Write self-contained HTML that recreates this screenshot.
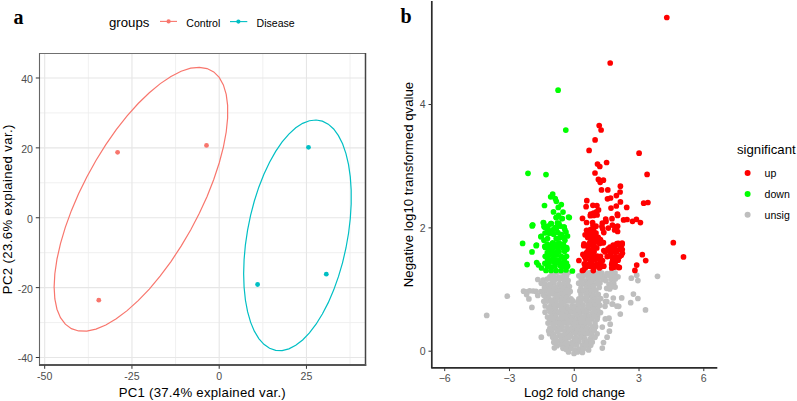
<!DOCTYPE html>
<html><head><meta charset="utf-8"><style>
html,body{margin:0;padding:0;background:#fff;width:797px;height:401px;overflow:hidden}
svg{display:block}
text{font-family:"Liberation Sans",sans-serif}
.gmaj{stroke:#E6E6E6;stroke-width:1.1}
.gmin{stroke:#EEEEEE;stroke-width:0.9}
.tk{stroke:#333;stroke-width:1}
.axl{stroke:#2b2b2b;stroke-width:1.7}
.ax{font-size:10.56px;fill:#4D4D4D}
.tt{font-size:13.2px;fill:#000}
.lg{font-size:10.56px;fill:#000}
.lab{font-family:"Liberation Serif",serif;font-weight:bold;font-size:20px;fill:#000}
</style></head><body>
<svg width="797" height="401" viewBox="0 0 797 401">
<rect width="797" height="401" fill="#fff"/>
<line x1="88.32" y1="53.5" x2="88.32" y2="365.5" class="gmin"/><line x1="175.57" y1="53.5" x2="175.57" y2="365.5" class="gmin"/><line x1="262.82" y1="53.5" x2="262.82" y2="365.5" class="gmin"/><line x1="350.07" y1="53.5" x2="350.07" y2="365.5" class="gmin"/><line x1="39.5" y1="112.93" x2="365.5" y2="112.93" class="gmin"/><line x1="39.5" y1="182.81" x2="365.5" y2="182.81" class="gmin"/><line x1="39.5" y1="252.69" x2="365.5" y2="252.69" class="gmin"/><line x1="39.5" y1="322.57" x2="365.5" y2="322.57" class="gmin"/><line x1="44.70" y1="53.5" x2="44.70" y2="365.5" class="gmaj"/><line x1="131.95" y1="53.5" x2="131.95" y2="365.5" class="gmaj"/><line x1="219.20" y1="53.5" x2="219.20" y2="365.5" class="gmaj"/><line x1="306.45" y1="53.5" x2="306.45" y2="365.5" class="gmaj"/><line x1="39.5" y1="77.99" x2="365.5" y2="77.99" class="gmaj"/><line x1="39.5" y1="147.87" x2="365.5" y2="147.87" class="gmaj"/><line x1="39.5" y1="217.75" x2="365.5" y2="217.75" class="gmaj"/><line x1="39.5" y1="287.63" x2="365.5" y2="287.63" class="gmaj"/><line x1="39.5" y1="357.51" x2="365.5" y2="357.51" class="gmaj"/><path d="M54.12,287.06 L54.84,273.73 L56.96,259.17 L60.47,243.64 L65.30,227.37 L71.37,210.65 L78.58,193.73 L86.82,176.91 L95.95,160.46 L105.81,144.64 L116.26,129.73 L127.11,115.95 L138.18,103.54 L149.31,92.71 L160.29,83.62 L170.96,76.44 L181.13,71.27 L190.65,68.21 L199.35,67.29 L207.09,68.55 L213.75,71.95 L219.21,77.44 L223.38,84.93 L226.21,94.31 L227.63,105.40 L227.63,118.04 L226.21,132.01 L223.38,147.09 L219.21,163.02 L213.75,179.55 L207.09,196.40 L199.35,213.30 L190.65,229.98 L181.13,246.14 L170.96,261.54 L160.29,275.92 L149.31,289.04 L138.18,300.68 L127.11,310.66 L116.26,318.81 L105.81,325.00 L95.95,329.13 L86.82,331.12 L78.58,330.95 L71.37,328.62 L65.30,324.16 L60.47,317.66 L56.96,309.21 L54.84,298.95 L54.12,287.06Z" fill="none" stroke="#F8766D" stroke-width="1.2"/><path d="M243.64,273.67 L244.09,259.44 L245.40,244.82 L247.58,230.04 L250.57,215.35 L254.33,200.98 L258.80,187.18 L263.91,174.17 L269.57,162.17 L275.68,151.37 L282.15,141.94 L288.88,134.05 L295.74,127.82 L302.63,123.36 L309.44,120.73 L316.06,119.99 L322.36,121.14 L328.26,124.17 L333.65,129.02 L338.45,135.62 L342.58,143.85 L345.96,153.59 L348.55,164.67 L350.30,176.91 L351.18,190.11 L351.18,204.05 L350.30,218.50 L348.55,233.24 L345.96,248.00 L342.58,262.56 L338.45,276.67 L333.65,290.10 L328.26,302.63 L322.36,314.06 L316.06,324.20 L309.44,332.87 L302.63,339.95 L295.74,345.30 L288.88,348.85 L282.15,350.54 L275.68,350.34 L269.57,348.24 L263.91,344.29 L258.80,338.56 L254.33,331.13 L250.57,322.12 L247.58,311.69 L245.40,300.01 L244.09,287.26 L243.64,273.67Z" fill="none" stroke="#00BFC4" stroke-width="1.2"/><circle cx="117.6" cy="152.3" r="2.4" fill="#F8766D"/><circle cx="206.5" cy="145.4" r="2.4" fill="#F8766D"/><circle cx="98.8" cy="300.2" r="2.4" fill="#F8766D"/><circle cx="308.5" cy="147.3" r="2.4" fill="#00BFC4"/><circle cx="257.6" cy="284.5" r="2.4" fill="#00BFC4"/><circle cx="326.3" cy="274.2" r="2.4" fill="#00BFC4"/><line x1="39" y1="53.5" x2="366" y2="53.5" stroke="#707070" stroke-width="1.1"/><line x1="39.5" y1="53" x2="39.5" y2="366" stroke="#666" stroke-width="1.1"/><line x1="365.5" y1="53" x2="365.5" y2="366" stroke="#444" stroke-width="1.5"/><line x1="39" y1="365.0" x2="366.2" y2="365.0" stroke="#555" stroke-width="1.8"/><line x1="35.8" y1="77.99" x2="39.5" y2="77.99" class="tk"/><text x="32.9" y="82.89" class="ax" text-anchor="end">40</text><line x1="35.8" y1="147.87" x2="39.5" y2="147.87" class="tk"/><text x="32.9" y="152.77" class="ax" text-anchor="end">20</text><line x1="35.8" y1="217.75" x2="39.5" y2="217.75" class="tk"/><text x="32.9" y="222.65" class="ax" text-anchor="end">0</text><line x1="35.8" y1="287.63" x2="39.5" y2="287.63" class="tk"/><text x="32.9" y="292.53" class="ax" text-anchor="end">-20</text><line x1="35.8" y1="357.51" x2="39.5" y2="357.51" class="tk"/><text x="32.9" y="362.41" class="ax" text-anchor="end">-40</text><line x1="44.70" y1="365.5" x2="44.70" y2="368.8" class="tk"/><text x="44.70" y="380.0" class="ax" text-anchor="middle">-50</text><line x1="131.95" y1="365.5" x2="131.95" y2="368.8" class="tk"/><text x="131.95" y="380.0" class="ax" text-anchor="middle">-25</text><line x1="219.20" y1="365.5" x2="219.20" y2="368.8" class="tk"/><text x="219.20" y="380.0" class="ax" text-anchor="middle">0</text><line x1="306.45" y1="365.5" x2="306.45" y2="368.8" class="tk"/><text x="306.45" y="380.0" class="ax" text-anchor="middle">25</text><text x="202.2" y="396.8" class="tt" text-anchor="middle" textLength="167.1" lengthAdjust="spacing">PC1 (37.4% explained var.)</text><text transform="translate(11.7,209.4) rotate(-90)" x="0" y="0" class="tt" text-anchor="middle" textLength="169.7" lengthAdjust="spacing">PC2 (23.6% explained var.)</text><text x="109" y="27.1" class="tt">groups</text><line x1="160" y1="21.4" x2="177" y2="21.4" stroke="#F8766D" stroke-width="1.1"/><circle cx="168.6" cy="21.4" r="2.1" fill="#F8766D"/><text x="186.3" y="26.5" class="lg">Control</text><line x1="230" y1="21.6" x2="247.3" y2="21.6" stroke="#00BFC4" stroke-width="1.1"/><circle cx="238.4" cy="21.6" r="2.1" fill="#00BFC4"/><text x="256.6" y="26.5" class="lg">Disease</text><text x="13.4" y="23.8" class="lab">a</text>
<g fill="#BEBEBE"><circle cx="552.2" cy="273.3" r="2.85"/><circle cx="556.8" cy="272.3" r="2.85"/><circle cx="561.5" cy="271.9" r="2.85"/><circle cx="564.7" cy="273.1" r="2.85"/><circle cx="568.4" cy="272.6" r="2.85"/><circle cx="582.3" cy="272.3" r="2.85"/><circle cx="586.2" cy="272.8" r="2.85"/><circle cx="590.1" cy="272.6" r="2.85"/><circle cx="594.8" cy="273.4" r="2.85"/><circle cx="598.4" cy="272.9" r="2.85"/><circle cx="601.8" cy="273.0" r="2.85"/><circle cx="607.1" cy="273.5" r="2.85"/><circle cx="611.6" cy="272.2" r="2.85"/><circle cx="615.0" cy="272.9" r="2.85"/><circle cx="549.9" cy="276.9" r="2.85"/><circle cx="553.5" cy="276.2" r="2.85"/><circle cx="558.6" cy="277.0" r="2.85"/><circle cx="563.3" cy="276.9" r="2.85"/><circle cx="566.5" cy="276.1" r="2.85"/><circle cx="578.9" cy="275.8" r="2.85"/><circle cx="583.2" cy="276.2" r="2.85"/><circle cx="588.1" cy="275.8" r="2.85"/><circle cx="591.2" cy="276.1" r="2.85"/><circle cx="596.1" cy="276.4" r="2.85"/><circle cx="601.3" cy="276.6" r="2.85"/><circle cx="604.7" cy="276.5" r="2.85"/><circle cx="609.2" cy="275.5" r="2.85"/><circle cx="613.8" cy="276.8" r="2.85"/><circle cx="618.0" cy="276.8" r="2.85"/><circle cx="543.1" cy="280.2" r="2.85"/><circle cx="547.2" cy="279.1" r="2.85"/><circle cx="551.7" cy="279.3" r="2.85"/><circle cx="556.1" cy="279.1" r="2.85"/><circle cx="559.7" cy="279.3" r="2.85"/><circle cx="564.1" cy="279.7" r="2.85"/><circle cx="568.1" cy="280.6" r="2.85"/><circle cx="581.4" cy="279.2" r="2.85"/><circle cx="586.4" cy="280.8" r="2.85"/><circle cx="589.9" cy="279.9" r="2.85"/><circle cx="593.5" cy="279.2" r="2.85"/><circle cx="598.1" cy="279.5" r="2.85"/><circle cx="603.2" cy="279.3" r="2.85"/><circle cx="605.9" cy="280.7" r="2.85"/><circle cx="611.1" cy="279.3" r="2.85"/><circle cx="615.3" cy="279.1" r="2.85"/><circle cx="541.3" cy="283.3" r="2.85"/><circle cx="545.3" cy="284.0" r="2.85"/><circle cx="550.2" cy="284.1" r="2.85"/><circle cx="554.0" cy="283.1" r="2.85"/><circle cx="559.1" cy="284.4" r="2.85"/><circle cx="563.3" cy="284.1" r="2.85"/><circle cx="567.5" cy="284.0" r="2.85"/><circle cx="578.7" cy="283.2" r="2.85"/><circle cx="583.3" cy="283.9" r="2.85"/><circle cx="588.7" cy="283.5" r="2.85"/><circle cx="592.9" cy="284.4" r="2.85"/><circle cx="597.1" cy="283.3" r="2.85"/><circle cx="600.0" cy="283.1" r="2.85"/><circle cx="609.1" cy="284.3" r="2.85"/><circle cx="613.7" cy="283.5" r="2.85"/><circle cx="544.5" cy="287.7" r="2.85"/><circle cx="548.5" cy="287.1" r="2.85"/><circle cx="551.6" cy="287.7" r="2.85"/><circle cx="556.1" cy="287.7" r="2.85"/><circle cx="561.4" cy="287.0" r="2.85"/><circle cx="564.6" cy="288.0" r="2.85"/><circle cx="569.4" cy="286.6" r="2.85"/><circle cx="581.0" cy="287.8" r="2.85"/><circle cx="586.7" cy="287.5" r="2.85"/><circle cx="589.7" cy="287.3" r="2.85"/><circle cx="593.5" cy="286.3" r="2.85"/><circle cx="599.2" cy="287.5" r="2.85"/><circle cx="611.6" cy="286.7" r="2.85"/><circle cx="541.0" cy="291.6" r="2.85"/><circle cx="545.6" cy="290.7" r="2.85"/><circle cx="550.3" cy="291.6" r="2.85"/><circle cx="554.2" cy="291.6" r="2.85"/><circle cx="558.5" cy="290.9" r="2.85"/><circle cx="562.7" cy="290.0" r="2.85"/><circle cx="566.8" cy="290.3" r="2.85"/><circle cx="570.2" cy="291.4" r="2.85"/><circle cx="579.9" cy="290.9" r="2.85"/><circle cx="583.4" cy="290.9" r="2.85"/><circle cx="588.0" cy="291.3" r="2.85"/><circle cx="591.4" cy="290.9" r="2.85"/><circle cx="595.8" cy="290.4" r="2.85"/><circle cx="543.8" cy="295.3" r="2.85"/><circle cx="548.4" cy="295.1" r="2.85"/><circle cx="553.0" cy="294.0" r="2.85"/><circle cx="556.5" cy="295.3" r="2.85"/><circle cx="561.2" cy="293.8" r="2.85"/><circle cx="564.1" cy="294.4" r="2.85"/><circle cx="568.2" cy="294.0" r="2.85"/><circle cx="581.0" cy="294.8" r="2.85"/><circle cx="586.1" cy="293.8" r="2.85"/><circle cx="590.7" cy="295.3" r="2.85"/><circle cx="593.7" cy="295.3" r="2.85"/><circle cx="598.2" cy="294.4" r="2.85"/><circle cx="546.1" cy="298.1" r="2.85"/><circle cx="549.3" cy="299.0" r="2.85"/><circle cx="554.8" cy="298.9" r="2.85"/><circle cx="557.8" cy="297.7" r="2.85"/><circle cx="561.9" cy="298.6" r="2.85"/><circle cx="566.5" cy="297.4" r="2.85"/><circle cx="571.0" cy="298.8" r="2.85"/><circle cx="578.9" cy="298.9" r="2.85"/><circle cx="583.8" cy="298.5" r="2.85"/><circle cx="587.2" cy="297.3" r="2.85"/><circle cx="592.4" cy="298.0" r="2.85"/><circle cx="595.5" cy="298.9" r="2.85"/><circle cx="600.7" cy="298.6" r="2.85"/><circle cx="543.8" cy="301.3" r="2.85"/><circle cx="547.3" cy="301.1" r="2.85"/><circle cx="551.4" cy="301.2" r="2.85"/><circle cx="556.1" cy="301.4" r="2.85"/><circle cx="561.1" cy="301.4" r="2.85"/><circle cx="564.8" cy="301.2" r="2.85"/><circle cx="568.7" cy="300.9" r="2.85"/><circle cx="572.8" cy="300.9" r="2.85"/><circle cx="577.8" cy="301.8" r="2.85"/><circle cx="581.0" cy="301.7" r="2.85"/><circle cx="586.6" cy="301.0" r="2.85"/><circle cx="590.6" cy="301.6" r="2.85"/><circle cx="594.2" cy="302.3" r="2.85"/><circle cx="598.2" cy="301.7" r="2.85"/><circle cx="545.2" cy="306.0" r="2.85"/><circle cx="550.8" cy="305.7" r="2.85"/><circle cx="553.9" cy="304.9" r="2.85"/><circle cx="558.1" cy="305.3" r="2.85"/><circle cx="562.1" cy="305.3" r="2.85"/><circle cx="566.5" cy="306.2" r="2.85"/><circle cx="572.0" cy="305.5" r="2.85"/><circle cx="574.8" cy="306.2" r="2.85"/><circle cx="579.2" cy="305.1" r="2.85"/><circle cx="582.8" cy="305.2" r="2.85"/><circle cx="587.9" cy="305.4" r="2.85"/><circle cx="591.6" cy="305.4" r="2.85"/><circle cx="595.4" cy="304.9" r="2.85"/><circle cx="599.8" cy="305.2" r="2.85"/><circle cx="548.9" cy="308.4" r="2.85"/><circle cx="552.6" cy="309.3" r="2.85"/><circle cx="555.6" cy="309.6" r="2.85"/><circle cx="561.3" cy="309.2" r="2.85"/><circle cx="565.2" cy="309.6" r="2.85"/><circle cx="568.4" cy="309.1" r="2.85"/><circle cx="573.2" cy="309.6" r="2.85"/><circle cx="577.9" cy="309.6" r="2.85"/><circle cx="581.8" cy="309.7" r="2.85"/><circle cx="586.1" cy="309.4" r="2.85"/><circle cx="589.5" cy="308.2" r="2.85"/><circle cx="593.5" cy="308.8" r="2.85"/><circle cx="597.7" cy="309.6" r="2.85"/><circle cx="545.1" cy="312.2" r="2.85"/><circle cx="550.5" cy="312.1" r="2.85"/><circle cx="554.7" cy="313.5" r="2.85"/><circle cx="558.5" cy="312.4" r="2.85"/><circle cx="562.7" cy="313.0" r="2.85"/><circle cx="567.4" cy="312.9" r="2.85"/><circle cx="571.4" cy="311.9" r="2.85"/><circle cx="574.7" cy="312.2" r="2.85"/><circle cx="579.9" cy="312.3" r="2.85"/><circle cx="583.8" cy="311.8" r="2.85"/><circle cx="587.1" cy="312.2" r="2.85"/><circle cx="592.4" cy="313.0" r="2.85"/><circle cx="596.6" cy="312.3" r="2.85"/><circle cx="600.5" cy="312.6" r="2.85"/><circle cx="547.5" cy="317.1" r="2.85"/><circle cx="551.7" cy="316.4" r="2.85"/><circle cx="555.8" cy="316.3" r="2.85"/><circle cx="561.4" cy="315.6" r="2.85"/><circle cx="565.4" cy="316.3" r="2.85"/><circle cx="569.7" cy="316.6" r="2.85"/><circle cx="572.7" cy="317.0" r="2.85"/><circle cx="577.4" cy="315.4" r="2.85"/><circle cx="580.7" cy="316.3" r="2.85"/><circle cx="585.7" cy="315.9" r="2.85"/><circle cx="589.4" cy="316.0" r="2.85"/><circle cx="593.9" cy="316.9" r="2.85"/><circle cx="597.5" cy="316.7" r="2.85"/><circle cx="549.7" cy="320.7" r="2.85"/><circle cx="553.8" cy="319.5" r="2.85"/><circle cx="558.5" cy="319.4" r="2.85"/><circle cx="562.5" cy="320.7" r="2.85"/><circle cx="567.6" cy="320.5" r="2.85"/><circle cx="571.3" cy="320.7" r="2.85"/><circle cx="576.1" cy="320.0" r="2.85"/><circle cx="579.9" cy="319.1" r="2.85"/><circle cx="584.1" cy="319.8" r="2.85"/><circle cx="588.4" cy="320.2" r="2.85"/><circle cx="591.7" cy="319.1" r="2.85"/><circle cx="597.1" cy="319.2" r="2.85"/><circle cx="548.0" cy="323.1" r="2.85"/><circle cx="552.9" cy="324.5" r="2.85"/><circle cx="556.3" cy="322.9" r="2.85"/><circle cx="560.0" cy="322.8" r="2.85"/><circle cx="564.5" cy="322.8" r="2.85"/><circle cx="568.5" cy="323.1" r="2.85"/><circle cx="573.3" cy="324.3" r="2.85"/><circle cx="577.8" cy="323.4" r="2.85"/><circle cx="581.4" cy="323.6" r="2.85"/><circle cx="585.6" cy="323.3" r="2.85"/><circle cx="589.2" cy="323.2" r="2.85"/><circle cx="595.0" cy="322.9" r="2.85"/><circle cx="549.9" cy="328.0" r="2.85"/><circle cx="554.9" cy="327.8" r="2.85"/><circle cx="559.4" cy="326.7" r="2.85"/><circle cx="562.0" cy="326.6" r="2.85"/><circle cx="566.9" cy="327.5" r="2.85"/><circle cx="571.9" cy="327.6" r="2.85"/><circle cx="575.6" cy="327.7" r="2.85"/><circle cx="579.4" cy="327.3" r="2.85"/><circle cx="582.9" cy="327.7" r="2.85"/><circle cx="587.4" cy="328.0" r="2.85"/><circle cx="592.4" cy="326.8" r="2.85"/><circle cx="595.6" cy="326.7" r="2.85"/><circle cx="548.7" cy="330.8" r="2.85"/><circle cx="551.7" cy="330.4" r="2.85"/><circle cx="557.2" cy="331.2" r="2.85"/><circle cx="560.3" cy="330.0" r="2.85"/><circle cx="564.8" cy="331.1" r="2.85"/><circle cx="568.9" cy="330.4" r="2.85"/><circle cx="573.5" cy="331.6" r="2.85"/><circle cx="576.9" cy="330.0" r="2.85"/><circle cx="581.3" cy="330.7" r="2.85"/><circle cx="586.1" cy="330.3" r="2.85"/><circle cx="590.5" cy="331.3" r="2.85"/><circle cx="594.2" cy="330.3" r="2.85"/><circle cx="549.5" cy="333.7" r="2.85"/><circle cx="553.5" cy="334.3" r="2.85"/><circle cx="559.2" cy="335.2" r="2.85"/><circle cx="563.1" cy="335.4" r="2.85"/><circle cx="567.7" cy="334.2" r="2.85"/><circle cx="570.5" cy="335.3" r="2.85"/><circle cx="575.7" cy="333.6" r="2.85"/><circle cx="579.8" cy="334.3" r="2.85"/><circle cx="583.5" cy="334.2" r="2.85"/><circle cx="587.3" cy="333.6" r="2.85"/><circle cx="591.7" cy="334.2" r="2.85"/><circle cx="597.1" cy="333.8" r="2.85"/><circle cx="552.7" cy="337.3" r="2.85"/><circle cx="555.6" cy="337.3" r="2.85"/><circle cx="561.4" cy="337.7" r="2.85"/><circle cx="565.2" cy="338.8" r="2.85"/><circle cx="568.7" cy="337.7" r="2.85"/><circle cx="574.0" cy="338.3" r="2.85"/><circle cx="577.0" cy="338.5" r="2.85"/><circle cx="581.3" cy="337.7" r="2.85"/><circle cx="584.9" cy="338.6" r="2.85"/><circle cx="590.7" cy="338.3" r="2.85"/><circle cx="595.0" cy="337.3" r="2.85"/><circle cx="553.8" cy="342.2" r="2.85"/><circle cx="558.0" cy="341.0" r="2.85"/><circle cx="561.9" cy="341.8" r="2.85"/><circle cx="566.6" cy="342.6" r="2.85"/><circle cx="571.8" cy="342.6" r="2.85"/><circle cx="574.9" cy="341.0" r="2.85"/><circle cx="578.8" cy="341.7" r="2.85"/><circle cx="584.1" cy="341.6" r="2.85"/><circle cx="587.4" cy="341.6" r="2.85"/><circle cx="592.3" cy="342.1" r="2.85"/><circle cx="557.0" cy="345.7" r="2.85"/><circle cx="561.5" cy="344.7" r="2.85"/><circle cx="564.8" cy="346.0" r="2.85"/><circle cx="569.6" cy="346.1" r="2.85"/><circle cx="572.4" cy="345.0" r="2.85"/><circle cx="576.7" cy="344.8" r="2.85"/><circle cx="582.5" cy="345.5" r="2.85"/><circle cx="586.6" cy="345.2" r="2.85"/><circle cx="590.7" cy="345.3" r="2.85"/><circle cx="563.0" cy="348.3" r="2.85"/><circle cx="566.3" cy="349.4" r="2.85"/><circle cx="570.9" cy="348.6" r="2.85"/><circle cx="575.0" cy="349.8" r="2.85"/><circle cx="579.2" cy="349.1" r="2.85"/><circle cx="583.4" cy="348.9" r="2.85"/><circle cx="588.6" cy="349.9" r="2.85"/><circle cx="568.5" cy="352.0" r="2.85"/><circle cx="574.0" cy="353.5" r="2.85"/><circle cx="577.4" cy="351.9" r="2.85"/><circle cx="582.4" cy="352.5" r="2.85"/><circle cx="486.7" cy="315.4" r="2.85"/><circle cx="507.3" cy="296.2" r="2.85"/><circle cx="523.6" cy="291.2" r="2.85"/><circle cx="526.0" cy="291.8" r="2.85"/><circle cx="529.6" cy="290.8" r="2.85"/><circle cx="533.2" cy="291.0" r="2.85"/><circle cx="526.6" cy="294.6" r="2.85"/><circle cx="528.9" cy="298.9" r="2.85"/><circle cx="531.9" cy="307.4" r="2.85"/><circle cx="537.8" cy="279.5" r="2.85"/><circle cx="537.8" cy="295.4" r="2.85"/><circle cx="536.0" cy="291.4" r="2.85"/><circle cx="541.3" cy="337.2" r="2.85"/><circle cx="554.4" cy="347.8" r="2.85"/><circle cx="631.3" cy="278.2" r="2.85"/><circle cx="636.7" cy="275.2" r="2.85"/><circle cx="637.9" cy="280.6" r="2.85"/><circle cx="621.7" cy="297.9" r="2.85"/><circle cx="633.4" cy="294.1" r="2.85"/><circle cx="630.7" cy="302.7" r="2.85"/><circle cx="637.9" cy="298.5" r="2.85"/><circle cx="618.7" cy="306.3" r="2.85"/><circle cx="657.5" cy="276.3" r="2.85"/><circle cx="645.5" cy="309.9" r="2.85"/><circle cx="620.3" cy="314.1" r="2.85"/><circle cx="606.7" cy="288.3" r="2.85"/><circle cx="609.7" cy="289.0" r="2.85"/><circle cx="615.1" cy="287.1" r="2.85"/><circle cx="606.1" cy="295.5" r="2.85"/><circle cx="613.3" cy="298.0" r="2.85"/><circle cx="605.5" cy="301.5" r="2.85"/><circle cx="612.1" cy="304.0" r="2.85"/><circle cx="605.0" cy="306.3" r="2.85"/><circle cx="591.0" cy="341.3" r="2.85"/><circle cx="602.3" cy="348.1" r="2.85"/><circle cx="603.5" cy="342.5" r="2.85"/><circle cx="607.1" cy="337.2" r="2.85"/><circle cx="609.4" cy="331.2" r="2.85"/><circle cx="610.2" cy="324.2" r="2.85"/><circle cx="602.3" cy="327.1" r="2.85"/><circle cx="605.3" cy="318.9" r="2.85"/><circle cx="609.0" cy="318.2" r="2.85"/><circle cx="617.0" cy="306.2" r="2.85"/><circle cx="612.7" cy="304.0" r="2.85"/><circle cx="606.8" cy="301.7" r="2.85"/></g><g fill="#00FF00"><circle cx="547.3" cy="244.2" r="2.85"/><circle cx="552.0" cy="245.1" r="2.85"/><circle cx="555.6" cy="244.1" r="2.85"/><circle cx="559.9" cy="243.9" r="2.85"/><circle cx="563.4" cy="244.5" r="2.85"/><circle cx="545.4" cy="247.5" r="2.85"/><circle cx="549.8" cy="248.8" r="2.85"/><circle cx="553.6" cy="247.5" r="2.85"/><circle cx="557.8" cy="248.1" r="2.85"/><circle cx="562.8" cy="247.6" r="2.85"/><circle cx="566.8" cy="249.2" r="2.85"/><circle cx="547.3" cy="252.7" r="2.85"/><circle cx="552.2" cy="251.3" r="2.85"/><circle cx="556.2" cy="252.7" r="2.85"/><circle cx="559.1" cy="251.6" r="2.85"/><circle cx="564.6" cy="251.3" r="2.85"/><circle cx="545.2" cy="256.3" r="2.85"/><circle cx="548.9" cy="255.1" r="2.85"/><circle cx="553.6" cy="255.2" r="2.85"/><circle cx="557.0" cy="255.0" r="2.85"/><circle cx="561.4" cy="256.3" r="2.85"/><circle cx="566.5" cy="256.3" r="2.85"/><circle cx="547.5" cy="258.9" r="2.85"/><circle cx="552.2" cy="259.3" r="2.85"/><circle cx="555.8" cy="259.9" r="2.85"/><circle cx="559.2" cy="260.1" r="2.85"/><circle cx="564.3" cy="259.0" r="2.85"/><circle cx="544.9" cy="263.3" r="2.85"/><circle cx="549.3" cy="262.2" r="2.85"/><circle cx="554.0" cy="262.0" r="2.85"/><circle cx="558.4" cy="262.4" r="2.85"/><circle cx="562.3" cy="263.7" r="2.85"/><circle cx="566.4" cy="263.1" r="2.85"/><circle cx="547.5" cy="266.3" r="2.85"/><circle cx="551.5" cy="267.2" r="2.85"/><circle cx="555.0" cy="266.0" r="2.85"/><circle cx="560.2" cy="265.6" r="2.85"/><circle cx="563.2" cy="266.2" r="2.85"/><circle cx="567.6" cy="266.2" r="2.85"/><circle cx="538.5" cy="265.0" r="2.85"/><circle cx="541.5" cy="268.0" r="2.85"/><circle cx="546.0" cy="270.5" r="2.85"/><circle cx="551.0" cy="270.5" r="2.85"/><circle cx="556.0" cy="270.5" r="2.85"/><circle cx="561.0" cy="270.5" r="2.85"/><circle cx="566.0" cy="270.0" r="2.85"/><circle cx="532.6" cy="225.0" r="2.85"/><circle cx="543.5" cy="222.9" r="2.85"/><circle cx="550.9" cy="223.7" r="2.85"/><circle cx="556.2" cy="217.6" r="2.85"/><circle cx="562.3" cy="218.5" r="2.85"/><circle cx="569.3" cy="217.6" r="2.85"/><circle cx="558.8" cy="223.3" r="2.85"/><circle cx="564.0" cy="227.2" r="2.85"/><circle cx="564.9" cy="229.8" r="2.85"/><circle cx="544.8" cy="227.2" r="2.85"/><circle cx="547.5" cy="229.8" r="2.85"/><circle cx="552.7" cy="229.8" r="2.85"/><circle cx="556.2" cy="229.0" r="2.85"/><circle cx="549.2" cy="233.3" r="2.85"/><circle cx="553.6" cy="234.2" r="2.85"/><circle cx="557.9" cy="232.5" r="2.85"/><circle cx="541.3" cy="236.4" r="2.85"/><circle cx="567.5" cy="236.0" r="2.85"/><circle cx="561.4" cy="234.6" r="2.85"/><circle cx="544.0" cy="240.3" r="2.85"/><circle cx="547.5" cy="238.6" r="2.85"/><circle cx="556.2" cy="238.6" r="2.85"/><circle cx="559.7" cy="237.7" r="2.85"/><circle cx="564.9" cy="240.3" r="2.85"/><circle cx="536.5" cy="245.1" r="2.85"/><circle cx="552.7" cy="242.9" r="2.85"/><circle cx="558.8" cy="242.9" r="2.85"/><circle cx="544.8" cy="246.4" r="2.85"/><circle cx="549.2" cy="247.3" r="2.85"/><circle cx="556.2" cy="246.4" r="2.85"/><circle cx="563.2" cy="246.4" r="2.85"/><circle cx="566.6" cy="247.7" r="2.85"/><circle cx="560.0" cy="226.0" r="2.85"/><circle cx="548.0" cy="226.0" r="2.85"/><circle cx="566.0" cy="232.0" r="2.85"/><circle cx="563.0" cy="237.0" r="2.85"/><circle cx="545.0" cy="233.0" r="2.85"/><circle cx="558.1" cy="90.2" r="2.85"/><circle cx="565.8" cy="130.1" r="2.85"/><circle cx="528.0" cy="173.3" r="2.85"/><circle cx="546.0" cy="174.6" r="2.85"/><circle cx="552.7" cy="194.0" r="2.85"/><circle cx="550.7" cy="196.8" r="2.85"/><circle cx="555.2" cy="198.5" r="2.85"/><circle cx="556.3" cy="201.3" r="2.85"/><circle cx="544.5" cy="205.5" r="2.85"/><circle cx="561.3" cy="204.6" r="2.85"/><circle cx="558.3" cy="207.4" r="2.85"/><circle cx="553.5" cy="211.9" r="2.85"/><circle cx="563.0" cy="212.1" r="2.85"/><circle cx="568.6" cy="217.0" r="2.85"/><circle cx="558.5" cy="215.3" r="2.85"/><circle cx="556.3" cy="217.5" r="2.85"/><circle cx="561.9" cy="218.6" r="2.85"/><circle cx="543.4" cy="222.6" r="2.85"/><circle cx="551.3" cy="223.7" r="2.85"/><circle cx="557.4" cy="223.1" r="2.85"/><circle cx="559.7" cy="225.9" r="2.85"/><circle cx="564.1" cy="227.0" r="2.85"/><circle cx="555.2" cy="227.6" r="2.85"/><circle cx="547.3" cy="227.6" r="2.85"/><circle cx="544.0" cy="226.5" r="2.85"/><circle cx="532.6" cy="225.1" r="2.85"/><circle cx="522.6" cy="243.4" r="2.85"/><circle cx="536.2" cy="245.7" r="2.85"/><circle cx="532.0" cy="251.9" r="2.85"/><circle cx="536.7" cy="262.6" r="2.85"/><circle cx="527.1" cy="264.6" r="2.85"/><circle cx="540.9" cy="236.7" r="2.85"/><circle cx="572.4" cy="271.0" r="2.85"/><circle cx="532.2" cy="225.9" r="2.85"/></g><g fill="#FF0000"><circle cx="591.6" cy="241.9" r="2.85"/><circle cx="596.8" cy="241.4" r="2.85"/><circle cx="585.4" cy="245.3" r="2.85"/><circle cx="590.2" cy="244.8" r="2.85"/><circle cx="593.8" cy="245.8" r="2.85"/><circle cx="588.3" cy="249.2" r="2.85"/><circle cx="593.1" cy="248.3" r="2.85"/><circle cx="586.6" cy="252.5" r="2.85"/><circle cx="590.8" cy="252.5" r="2.85"/><circle cx="594.1" cy="251.8" r="2.85"/><circle cx="584.5" cy="256.8" r="2.85"/><circle cx="588.7" cy="255.8" r="2.85"/><circle cx="592.6" cy="256.1" r="2.85"/><circle cx="597.2" cy="256.2" r="2.85"/><circle cx="600.5" cy="256.4" r="2.85"/><circle cx="585.8" cy="259.3" r="2.85"/><circle cx="590.8" cy="260.6" r="2.85"/><circle cx="595.0" cy="259.5" r="2.85"/><circle cx="599.5" cy="259.5" r="2.85"/><circle cx="602.5" cy="260.6" r="2.85"/><circle cx="584.3" cy="263.8" r="2.85"/><circle cx="588.6" cy="264.3" r="2.85"/><circle cx="592.4" cy="264.1" r="2.85"/><circle cx="597.1" cy="264.1" r="2.85"/><circle cx="600.8" cy="263.9" r="2.85"/><circle cx="585.4" cy="267.8" r="2.85"/><circle cx="589.8" cy="266.2" r="2.85"/><circle cx="593.9" cy="267.9" r="2.85"/><circle cx="598.5" cy="266.5" r="2.85"/><circle cx="602.2" cy="266.3" r="2.85"/><circle cx="613.2" cy="245.0" r="2.85"/><circle cx="616.8" cy="244.7" r="2.85"/><circle cx="621.5" cy="245.5" r="2.85"/><circle cx="608.0" cy="248.8" r="2.85"/><circle cx="612.0" cy="249.0" r="2.85"/><circle cx="614.8" cy="248.6" r="2.85"/><circle cx="619.7" cy="249.3" r="2.85"/><circle cx="605.2" cy="251.9" r="2.85"/><circle cx="610.0" cy="251.7" r="2.85"/><circle cx="614.1" cy="251.8" r="2.85"/><circle cx="616.8" cy="251.9" r="2.85"/><circle cx="622.4" cy="253.3" r="2.85"/><circle cx="607.2" cy="256.6" r="2.85"/><circle cx="610.8" cy="256.0" r="2.85"/><circle cx="615.3" cy="256.6" r="2.85"/><circle cx="619.4" cy="256.8" r="2.85"/><circle cx="612.7" cy="260.2" r="2.85"/><circle cx="618.1" cy="260.2" r="2.85"/><circle cx="612.1" cy="262.5" r="2.85"/><circle cx="615.1" cy="262.9" r="2.85"/><circle cx="614.0" cy="267.2" r="2.85"/><circle cx="617.4" cy="266.6" r="2.85"/><circle cx="666.8" cy="17.5" r="2.85"/><circle cx="610.2" cy="63.0" r="2.85"/><circle cx="599.2" cy="125.5" r="2.85"/><circle cx="601.1" cy="130.0" r="2.85"/><circle cx="595.1" cy="139.9" r="2.85"/><circle cx="589.1" cy="150.4" r="2.85"/><circle cx="639.1" cy="153.2" r="2.85"/><circle cx="606.6" cy="162.5" r="2.85"/><circle cx="597.5" cy="164.0" r="2.85"/><circle cx="599.8" cy="166.5" r="2.85"/><circle cx="595.0" cy="173.0" r="2.85"/><circle cx="647.1" cy="174.4" r="2.85"/><circle cx="598.4" cy="179.4" r="2.85"/><circle cx="603.4" cy="180.2" r="2.85"/><circle cx="600.2" cy="182.3" r="2.85"/><circle cx="620.4" cy="186.2" r="2.85"/><circle cx="601.5" cy="189.9" r="2.85"/><circle cx="607.8" cy="189.9" r="2.85"/><circle cx="620.1" cy="192.0" r="2.85"/><circle cx="616.4" cy="195.6" r="2.85"/><circle cx="607.5" cy="198.8" r="2.85"/><circle cx="610.6" cy="198.0" r="2.85"/><circle cx="586.8" cy="200.7" r="2.85"/><circle cx="620.4" cy="201.9" r="2.85"/><circle cx="586.1" cy="206.7" r="2.85"/><circle cx="592.9" cy="205.3" r="2.85"/><circle cx="596.9" cy="205.6" r="2.85"/><circle cx="616.3" cy="206.0" r="2.85"/><circle cx="626.7" cy="207.4" r="2.85"/><circle cx="611.0" cy="208.1" r="2.85"/><circle cx="598.5" cy="209.9" r="2.85"/><circle cx="596.4" cy="211.8" r="2.85"/><circle cx="590.7" cy="214.2" r="2.85"/><circle cx="593.5" cy="213.1" r="2.85"/><circle cx="617.4" cy="214.2" r="2.85"/><circle cx="643.7" cy="203.2" r="2.85"/><circle cx="647.9" cy="202.5" r="2.85"/><circle cx="673.3" cy="242.7" r="2.85"/><circle cx="683.5" cy="256.9" r="2.85"/><circle cx="642.3" cy="254.7" r="2.85"/><circle cx="645.7" cy="260.6" r="2.85"/><circle cx="636.7" cy="265.1" r="2.85"/><circle cx="634.9" cy="270.4" r="2.85"/><circle cx="632.5" cy="221.3" r="2.85"/><circle cx="636.4" cy="219.3" r="2.85"/><circle cx="640.4" cy="222.6" r="2.85"/><circle cx="582.5" cy="218.4" r="2.85"/><circle cx="590.3" cy="215.7" r="2.85"/><circle cx="593.7" cy="215.4" r="2.85"/><circle cx="597.1" cy="215.0" r="2.85"/><circle cx="617.6" cy="215.4" r="2.85"/><circle cx="586.6" cy="222.5" r="2.85"/><circle cx="592.6" cy="222.5" r="2.85"/><circle cx="605.7" cy="219.1" r="2.85"/><circle cx="606.0" cy="221.4" r="2.85"/><circle cx="612.0" cy="218.7" r="2.85"/><circle cx="623.6" cy="219.9" r="2.85"/><circle cx="627.0" cy="219.5" r="2.85"/><circle cx="602.3" cy="223.2" r="2.85"/><circle cx="601.9" cy="226.6" r="2.85"/><circle cx="596.0" cy="226.2" r="2.85"/><circle cx="593.0" cy="225.5" r="2.85"/><circle cx="602.7" cy="228.8" r="2.85"/><circle cx="603.8" cy="232.6" r="2.85"/><circle cx="608.3" cy="228.1" r="2.85"/><circle cx="612.4" cy="225.1" r="2.85"/><circle cx="615.4" cy="227.0" r="2.85"/><circle cx="617.6" cy="226.2" r="2.85"/><circle cx="614.6" cy="230.0" r="2.85"/><circle cx="617.6" cy="231.5" r="2.85"/><circle cx="586.6" cy="230.3" r="2.85"/><circle cx="590.3" cy="229.6" r="2.85"/><circle cx="593.7" cy="230.7" r="2.85"/><circle cx="596.0" cy="233.0" r="2.85"/><circle cx="585.1" cy="234.8" r="2.85"/><circle cx="588.5" cy="233.7" r="2.85"/><circle cx="591.8" cy="234.4" r="2.85"/><circle cx="596.0" cy="236.7" r="2.85"/><circle cx="598.2" cy="237.4" r="2.85"/><circle cx="590.0" cy="238.2" r="2.85"/><circle cx="593.7" cy="238.9" r="2.85"/><circle cx="587.7" cy="237.4" r="2.85"/><circle cx="600.4" cy="239.7" r="2.85"/><circle cx="603.4" cy="242.7" r="2.85"/><circle cx="584.0" cy="243.8" r="2.85"/><circle cx="590.7" cy="242.7" r="2.85"/><circle cx="595.2" cy="241.9" r="2.85"/><circle cx="599.7" cy="243.4" r="2.85"/><circle cx="618.4" cy="243.4" r="2.85"/><circle cx="622.1" cy="243.0" r="2.85"/><circle cx="583.7" cy="245.7" r="2.85"/><circle cx="578.9" cy="260.5" r="2.85"/><circle cx="582.9" cy="254.4" r="2.85"/><circle cx="583.3" cy="270.1" r="2.85"/><circle cx="586.4" cy="266.2" r="2.85"/><circle cx="593.3" cy="270.6" r="2.85"/><circle cx="599.5" cy="268.0" r="2.85"/><circle cx="603.8" cy="266.2" r="2.85"/><circle cx="603.8" cy="250.5" r="2.85"/><circle cx="610.0" cy="247.0" r="2.85"/><circle cx="616.9" cy="243.5" r="2.85"/><circle cx="622.2" cy="243.9" r="2.85"/><circle cx="622.2" cy="249.6" r="2.85"/><circle cx="621.3" cy="255.3" r="2.85"/><circle cx="616.0" cy="260.1" r="2.85"/><circle cx="611.7" cy="264.5" r="2.85"/><circle cx="618.7" cy="267.5" r="2.85"/><circle cx="611.7" cy="268.0" r="2.85"/><circle cx="589.8" cy="242.6" r="2.85"/><circle cx="595.1" cy="241.7" r="2.85"/><circle cx="603.0" cy="242.6" r="2.85"/><circle cx="596.8" cy="247.9" r="2.85"/><circle cx="610.0" cy="255.7" r="2.85"/><circle cx="596.0" cy="258.3" r="2.85"/><circle cx="590.7" cy="260.1" r="2.85"/><circle cx="619.3" cy="267.4" r="2.85"/><circle cx="582.4" cy="270.5" r="2.85"/><circle cx="585.2" cy="266.7" r="2.85"/></g><line x1="431.8" y1="1" x2="431.8" y2="368.3" class="axl"/><line x1="431.3" y1="367.8" x2="717.3" y2="367.8" class="axl"/><line x1="428.5" y1="351.20" x2="431.8" y2="351.20" class="tk"/><text x="425.6" y="355.00" class="ax" text-anchor="end">0</text><line x1="428.5" y1="227.86" x2="431.8" y2="227.86" class="tk"/><text x="425.6" y="231.66" class="ax" text-anchor="end">2</text><line x1="428.5" y1="104.52" x2="431.8" y2="104.52" class="tk"/><text x="425.6" y="108.32" class="ax" text-anchor="end">4</text><line x1="444.71" y1="367.8" x2="444.71" y2="371.1" class="tk"/><text x="444.71" y="381.5" class="ax" text-anchor="middle">−6</text><line x1="509.48" y1="367.8" x2="509.48" y2="371.1" class="tk"/><text x="509.48" y="381.5" class="ax" text-anchor="middle">−3</text><line x1="574.25" y1="367.8" x2="574.25" y2="371.1" class="tk"/><text x="574.25" y="381.5" class="ax" text-anchor="middle">0</text><line x1="639.02" y1="367.8" x2="639.02" y2="371.1" class="tk"/><text x="639.02" y="381.5" class="ax" text-anchor="middle">3</text><line x1="703.79" y1="367.8" x2="703.79" y2="371.1" class="tk"/><text x="703.79" y="381.5" class="ax" text-anchor="middle">6</text><text x="574.6" y="396.7" class="tt" text-anchor="middle">Log2 fold change</text><text transform="translate(413.3,184.5) rotate(-90)" class="tt" text-anchor="middle" textLength="205.4" lengthAdjust="spacing">Negative log10 transformed qvalue</text><text x="737" y="154" class="tt">significant</text><circle cx="747.6" cy="173" r="3" fill="#FF0000"/><text x="764.6" y="177.0" class="lg">up</text><circle cx="747.6" cy="194" r="3" fill="#00FF00"/><text x="764.6" y="198.0" class="lg">down</text><circle cx="747.6" cy="214.8" r="3" fill="#BEBEBE"/><text x="764.6" y="218.8" class="lg">unsig</text><text x="400.6" y="22.9" class="lab">b</text>
</svg>
</body></html>
